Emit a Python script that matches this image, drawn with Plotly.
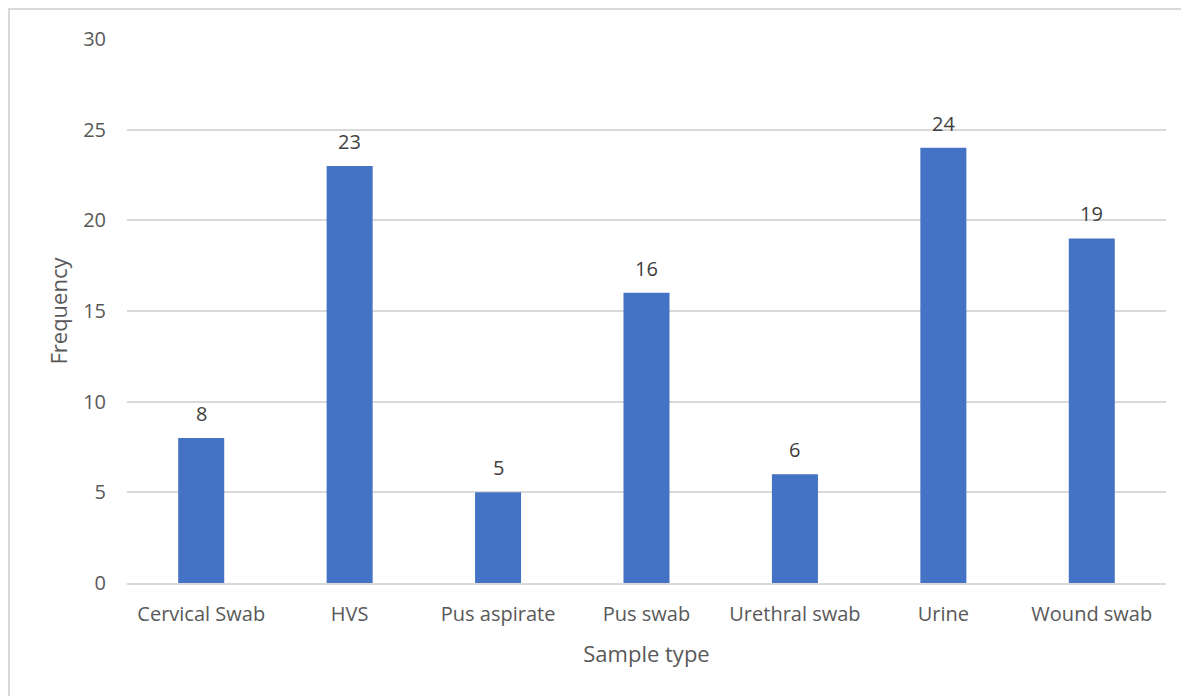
import plotly.graph_objects as go

categories = ["Cervical Swab", "HVS", "Pus aspirate", "Pus swab", "Urethral swab", "Urine", "Wound swab"]
frequency = [8, 23, 5, 16, 6, 24, 19]
y_ticks = [0, 5, 10, 15, 20, 25, 30]

FONT = "Open Sans"
OFF = 8  # page body margin
W, H = 1189 - OFF, 696 - OFF
L, R, T, B = 127 - OFF, 23, 39 - OFF, 113
pw, ph = W - L - R, H - T - B

fig = go.Figure(go.Bar(
    x=categories, y=frequency,
    marker=dict(color="#4472c4", line=dict(width=0)),
    width=0.31, hoverinfo="x+y",
))

for c, v in zip(categories, frequency):
    fig.add_annotation(
        x=c, y=v, text=str(v), showarrow=False, yanchor="bottom", yshift=9,
        font=dict(family=FONT, size=20, color="#404040"),
    )

fig.update_layout(
    width=W, height=H,
    margin=dict(l=L, r=R, t=T, b=B),
    paper_bgcolor="white", plot_bgcolor="white",
    showlegend=False,
    font=dict(family=FONT, size=20, color="#595959"),
    xaxis=dict(
        showgrid=False, showline=True, linecolor="#d9d9d9", linewidth=1.5,
        ticks="", ticklabelstandoff=12, tickfont=dict(size=20, color="#595959"),
        title=dict(text="Sample type", font=dict(size=22, color="#595959"), standoff=21),
    ),
    yaxis=dict(
        range=[0, 30], tickvals=y_ticks, showgrid=True, gridcolor="#d9d9d9", gridwidth=1.5,
        zeroline=False, showline=False, ticks="", ticklabelstandoff=20,
        tickfont=dict(size=20, color="#595959"),
        title=dict(text="Frequency", font=dict(size=22, color="#595959"), standoff=9),
    ),
    shapes=[dict(
        type="rect", xref="paper", yref="paper",
        x0=(1 - L) / pw, x1=(W + 10 - L) / pw,
        y0=-(B + 10) / ph, y1=(H - B - 1) / ph,
        line=dict(color="#d9d9d9", width=2), fillcolor="rgba(0,0,0,0)", layer="below",
    )],
)

fig.write_html("out.html")
